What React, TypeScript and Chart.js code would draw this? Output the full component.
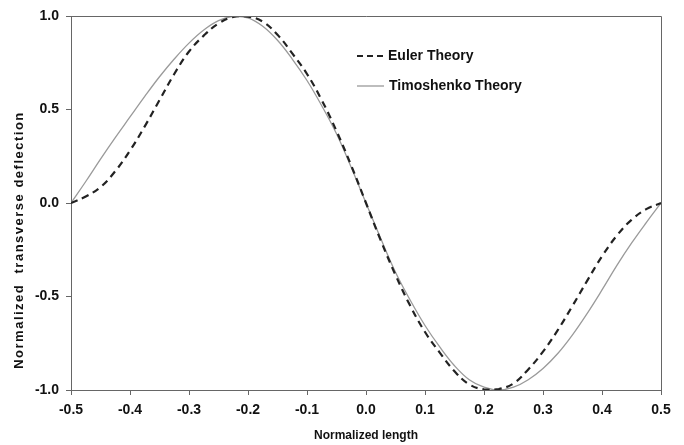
import React, { useEffect, useRef } from "react";
import { Chart, registerables } from "chart.js";

Chart.register(...registerables);

const xValues = [
  -0.5, -0.475, -0.45, -0.425, -0.4, -0.375, -0.35, -0.325, -0.3, -0.275,
  -0.25, -0.225, -0.2, -0.175, -0.15, -0.125, -0.1, -0.075, -0.05, -0.025,
  0, 0.025, 0.05, 0.075, 0.1, 0.125, 0.15, 0.175, 0.2, 0.225,
  0.25, 0.275, 0.3, 0.325, 0.35, 0.375, 0.4, 0.425, 0.45, 0.475, 0.5,
];

const eulerValues = [
  0, 0.035, 0.085, 0.17, 0.28, 0.41, 0.55, 0.69, 0.81, 0.895,
  0.96, 0.995, 0.997, 0.97, 0.9, 0.8, 0.69, 0.55, 0.385, 0.2,
  0, -0.2, -0.385, -0.55, -0.69, -0.8, -0.9, -0.97, -0.997, -0.995,
  -0.965, -0.89, -0.795, -0.68, -0.55, -0.415, -0.285, -0.175, -0.09, -0.033, 0,
];

const timoshenkoValues = [
  0, 0.115, 0.235, 0.35, 0.46, 0.57, 0.675, 0.77, 0.855, 0.925,
  0.975, 0.998, 0.99, 0.945, 0.87, 0.77, 0.655, 0.52, 0.37, 0.19,
  0, -0.19, -0.37, -0.52, -0.655, -0.77, -0.87, -0.945, -0.985, -1.0,
  -0.985, -0.945, -0.885, -0.805, -0.705, -0.59, -0.465, -0.335, -0.215, -0.105, 0,
];

const xTicks = [-0.5, -0.4, -0.3, -0.2, -0.1, 0, 0.1, 0.2, 0.3, 0.4, 0.5];
const yTicks = [-1.0, -0.5, 0.0, 0.5, 1.0];

const seriesNames = ["Euler Theory", "Timoshenko Theory"];
const xTitle = "Normalized length";
const yTitle = "Normalized  transverse deflection";

const FONT = "Arial, 'Liberation Sans', sans-serif";
const fmt = (v: number) => (Math.abs(v) < 1e-9 ? "0.0" : v.toFixed(1));

const decorPlugin = {
  id: "decor",
  afterDraw(chart: any) {
    const { ctx, chartArea } = chart;
    const { left, right, top, bottom } = chartArea;
    ctx.save();
    ctx.strokeStyle = "#666";
    ctx.lineWidth = 1;
    ctx.beginPath();
    ctx.moveTo(left, top + 0.5);
    ctx.lineTo(right + 0.5, top + 0.5);
    ctx.lineTo(right + 0.5, bottom);
    ctx.stroke();

    const lx = 357;
    const ly1 = 56;
    const ly2 = 86;
    ctx.strokeStyle = "#222";
    ctx.lineWidth = 2;
    ctx.setLineDash([6, 4]);
    ctx.beginPath();
    ctx.moveTo(lx, ly1);
    ctx.lineTo(lx + 30, ly1);
    ctx.stroke();
    ctx.setLineDash([]);
    ctx.strokeStyle = "#9a9a9a";
    ctx.lineWidth = 1.3;
    ctx.beginPath();
    ctx.moveTo(lx, ly2);
    ctx.lineTo(lx + 27, ly2);
    ctx.stroke();

    ctx.fillStyle = "#111";
    ctx.font = `bold 14px ${FONT}`;
    ctx.textAlign = "left";
    ctx.textBaseline = "middle";
    ctx.fillText(seriesNames[0], 388, ly1);
    ctx.fillText(seriesNames[1], 389, ly2);

    ctx.font = `bold 12px ${FONT}`;
    ctx.textAlign = "center";
    ctx.fillText(xTitle, (left + right) / 2, 436);

    ctx.translate(19, 240);
    ctx.rotate(-Math.PI / 2);
    ctx.font = `bold 13px ${FONT}`;
    (ctx as any).letterSpacing = "1.5px";
    ctx.fillText(yTitle, 0, 0);
    ctx.restore();
  },
};

export default function App() {
  const canvasRef = useRef<HTMLCanvasElement>(null);

  useEffect(() => {
    const canvas = canvasRef.current;
    if (!canvas) return;
    const chart = new Chart(canvas, {
      type: "scatter",
      data: {
        datasets: [
          {
            label: seriesNames[0],
            data: xValues.map((x, i) => ({ x, y: eulerValues[i] })),
            showLine: true,
            borderColor: "#222",
            borderWidth: 2.2,
            borderDash: [7, 5],
            pointRadius: 0,
            tension: 0.4,
            fill: false,
          },
          {
            label: seriesNames[1],
            data: xValues.map((x, i) => ({ x, y: timoshenkoValues[i] })),
            showLine: true,
            borderColor: "#9a9a9a",
            borderWidth: 1.3,
            pointRadius: 0,
            tension: 0.4,
            fill: false,
          },
        ],
      },
      options: {
        animation: false,
        responsive: false,
        devicePixelRatio: 1,
        layout: { padding: { top: 16, right: 23, left: 0, bottom: 0 } },
        plugins: {
          legend: { display: false },
          tooltip: { enabled: false },
        },
        scales: {
          x: {
            type: "linear",
            min: -0.5,
            max: 0.5,
            afterBuildTicks: (scale: any) => {
              scale.ticks = xTicks.map((v) => ({ value: v }));
            },
            afterFit: (scale: any) => {
              scale.height = 55;
            },
            ticks: {
              callback: (v: any) => fmt(Number(v)),
              font: { family: FONT, size: 14, weight: "bold" },
              color: "#111",
              padding: 7,
              maxRotation: 0,
            },
            grid: {
              drawOnChartArea: false,
              drawTicks: true,
              tickLength: 5,
              color: "#666",
            },
            border: { display: true, color: "#666", width: 1 },
          },
          y: {
            type: "linear",
            min: -1,
            max: 1,
            afterBuildTicks: (scale: any) => {
              scale.ticks = yTicks.map((v) => ({ value: v }));
            },
            afterFit: (scale: any) => {
              scale.width = 71;
            },
            ticks: {
              callback: (v: any) => fmt(Number(v)),
              font: { family: FONT, size: 14, weight: "bold" },
              color: "#111",
              padding: 7,
            },
            grid: {
              drawOnChartArea: false,
              drawTicks: true,
              tickLength: 5,
              color: "#666",
            },
            border: { display: true, color: "#666", width: 1 },
          },
        },
      },
      plugins: [decorPlugin],
    } as any);
    return () => chart.destroy();
  }, []);

  return (
    <div style={{ position: "absolute", left: 0, top: 0, width: 684, height: 445, background: "#fff" }}>
      <canvas ref={canvasRef} width={684} height={445} />
    </div>
  );
}
